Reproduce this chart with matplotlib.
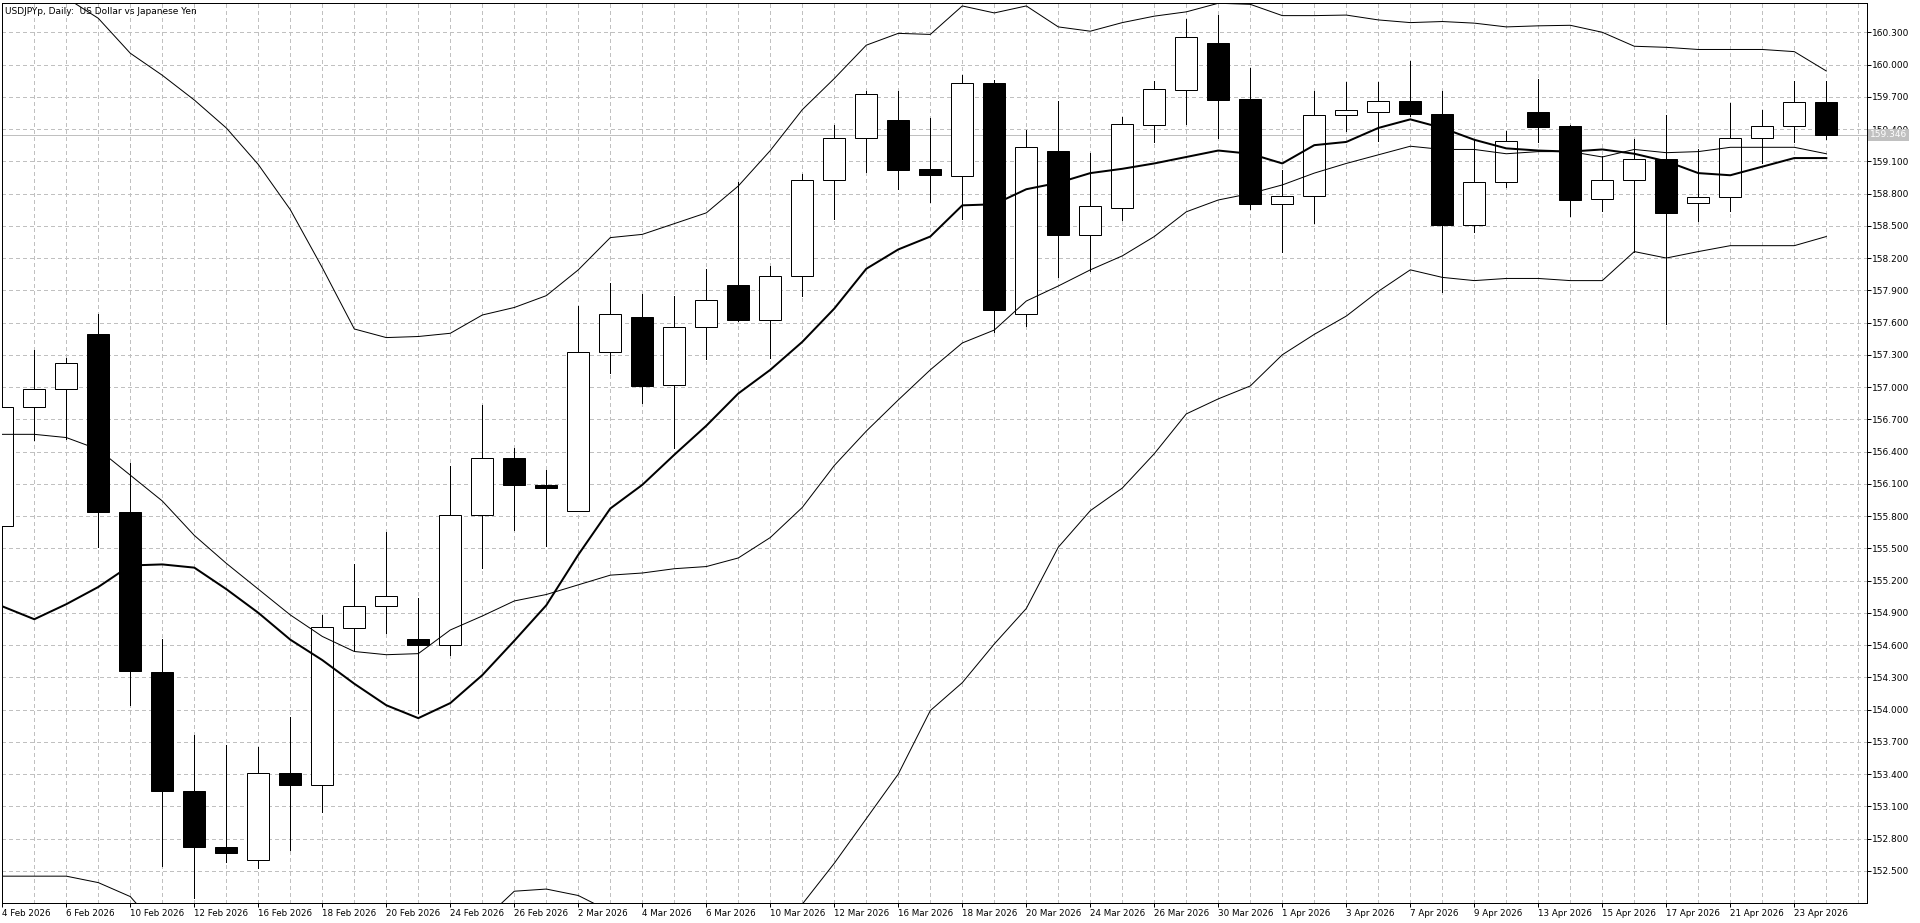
import numpy as np
import matplotlib
matplotlib.use("Agg")
import matplotlib.pyplot as plt

plt.rcParams['font.family'] = ['DejaVu Sans']

# daily candles, 4 Feb 2026 .. 24 Apr 2026
opens = [155.71, 156.81, 156.98, 157.49, 155.84, 154.35, 153.24, 152.72, 152.60, 153.41,
         153.30, 154.76, 154.96, 154.66, 154.60, 155.81, 156.34, 156.09, 155.85, 157.33,
         157.65, 157.02, 157.56, 157.95, 157.62, 158.03, 158.93, 159.32, 159.48, 159.03,
         158.96, 159.83, 157.68, 159.20, 158.41, 158.67, 159.44, 159.76, 160.20, 159.68,
         158.70, 158.78, 159.53, 159.56, 159.66, 159.54, 158.51, 158.91, 159.56, 159.43,
         158.75, 158.93, 159.12, 158.71, 158.77, 159.32, 159.43, 159.65]
highs = [156.95, 157.34, 157.27, 157.68, 156.29, 154.66, 153.76, 153.67, 153.65, 153.93,
         154.88, 155.35, 155.65, 155.04, 156.27, 156.83, 156.43, 156.23, 157.75, 157.97,
         157.87, 157.85, 158.10, 158.91, 158.13, 158.98, 159.44, 159.75, 159.75, 159.50,
         159.90, 159.86, 159.39, 159.66, 159.18, 159.51, 159.85, 160.42, 160.46, 159.97,
         159.02, 159.75, 159.84, 159.84, 160.03, 159.75, 159.31, 159.38, 159.87, 159.44,
         159.15, 159.31, 159.53, 159.21, 159.64, 159.58, 159.85, 159.85]
lows = [155.60, 156.51, 156.52, 155.51, 154.04, 152.54, 152.25, 152.58, 152.53, 152.69,
        153.05, 154.54, 154.71, 153.97, 154.51, 155.32, 155.67, 155.52, 155.85, 157.13,
        156.85, 156.43, 157.26, 157.61, 157.27, 157.85, 158.56, 159.00, 158.84, 158.72,
        158.56, 157.51, 157.57, 158.02, 158.08, 158.55, 159.28, 159.45, 159.32, 158.66,
        158.26, 158.53, 159.38, 159.29, 159.52, 157.88, 158.44, 158.86, 159.28, 158.59,
        158.64, 158.26, 157.59, 158.54, 158.64, 159.08, 159.28, 159.31]
closes = [156.81, 156.98, 157.22, 155.84, 154.36, 153.24, 152.72, 152.67, 153.41, 153.30,
          154.77, 154.96, 155.06, 154.60, 155.81, 156.34, 156.09, 156.06, 157.33, 157.68,
          157.01, 157.56, 157.81, 157.62, 158.03, 158.93, 159.32, 159.73, 159.02, 158.97,
          159.83, 157.72, 159.23, 158.41, 158.68, 159.45, 159.77, 160.26, 159.67, 158.70,
          158.78, 159.53, 159.58, 159.66, 159.54, 158.51, 158.91, 159.29, 159.42, 158.74,
          158.93, 159.12, 158.62, 158.77, 159.32, 159.43, 159.65, 159.346]

# indicator lines
band_upper = [160.80, 160.72, 160.62, 160.43, 160.105, 159.90, 159.67, 159.41, 159.07, 158.65,
              158.11, 157.54, 157.46, 157.47, 157.50, 157.67, 157.74, 157.85, 158.09, 158.39,
              158.42, 158.52, 158.62, 158.87, 159.20, 159.58, 159.87, 160.18, 160.29, 160.28,
              160.545, 160.48, 160.545, 160.35, 160.31, 160.39, 160.45, 160.49, 160.57, 160.56,
              160.455, 160.455, 160.46, 160.415, 160.39, 160.40, 160.385, 160.35, 160.36, 160.365,
              160.30, 160.17, 160.16, 160.14, 160.14, 160.14, 160.12, 159.94]
ma_thick = [154.96, 154.84, 154.98, 155.14, 155.34, 155.35, 155.32, 155.12, 154.90, 154.65,
            154.46, 154.24, 154.04, 153.92, 154.06, 154.32, 154.64, 154.97, 155.44, 155.87,
            156.09, 156.37, 156.64, 156.94, 157.16, 157.42, 157.73, 158.10, 158.28, 158.40,
            158.69, 158.70, 158.84, 158.90, 158.99, 159.03, 159.08, 159.14, 159.20, 159.17,
            159.08, 159.25, 159.28, 159.41, 159.49, 159.41, 159.30, 159.22, 159.20, 159.19,
            159.21, 159.17, 159.10, 158.99, 158.97, 159.05, 159.13, 159.13]
ma_thin = [156.56, 156.56, 156.53, 156.42, 156.18, 155.94, 155.62, 155.36, 155.12, 154.88,
           154.68, 154.54, 154.51, 154.52, 154.74, 154.87, 155.01, 155.07, 155.16, 155.25,
           155.27, 155.31, 155.33, 155.41, 155.60, 155.88, 156.27, 156.59, 156.88, 157.16,
           157.41, 157.53, 157.80, 157.94, 158.09, 158.22, 158.40, 158.63, 158.74, 158.80,
           158.88, 158.99, 159.08, 159.16, 159.24, 159.21, 159.21, 159.17, 159.19, 159.19,
           159.14, 159.21, 159.18, 159.19, 159.23, 159.23, 159.23, 159.17]
band_lower = [152.45, 152.45, 152.45, 152.39, 152.26, 151.92, 151.70, 151.55, 151.45, 151.40,
              151.40, 151.45, 151.55, 151.65, 151.80, 152.03, 152.31, 152.33, 152.27, 152.12,
              151.95, 151.85, 151.80, 151.82, 151.90, 152.19, 152.57, 152.985, 153.40, 153.99,
              154.25, 154.61, 154.94, 155.51, 155.85, 156.06, 156.38, 156.75, 156.89, 157.01,
              157.30, 157.49, 157.66, 157.89, 158.09, 158.02, 157.99, 158.01, 158.01, 157.99,
              157.99, 158.26, 158.20, 158.26, 158.315, 158.315, 158.315, 158.40]

date_labels = ["4 Feb 2026", "6 Feb 2026", "10 Feb 2026", "12 Feb 2026", "16 Feb 2026",
               "18 Feb 2026", "20 Feb 2026", "24 Feb 2026", "26 Feb 2026", "2 Mar 2026",
               "4 Mar 2026", "6 Mar 2026", "10 Mar 2026", "12 Mar 2026", "16 Mar 2026",
               "18 Mar 2026", "20 Mar 2026", "24 Mar 2026", "26 Mar 2026", "30 Mar 2026",
               "1 Apr 2026", "3 Apr 2026", "7 Apr 2026", "9 Apr 2026", "13 Apr 2026",
               "15 Apr 2026", "17 Apr 2026", "21 Apr 2026", "23 Apr 2026"]
price_ticks = [152.5, 152.8, 153.1, 153.4, 153.7, 154.0, 154.3, 154.6, 154.9, 155.2,
               155.5, 155.8, 156.1, 156.4, 156.7, 157.0, 157.3, 157.6, 157.9, 158.2,
               158.5, 158.8, 159.1, 159.4, 159.7, 160.0, 160.3]
last_price = 159.346

W, H = 1920, 923
fig = plt.figure(figsize=(W / 100, H / 100), dpi=100)
fig.patch.set_facecolor("white")
left, right, top, bottom = 2.3, 1866.7, 2.5, 902.5
ax = fig.add_axes([left / W, (H - bottom) / H, (right - left) / W, (bottom - top) / H])

n = len(opens)
x = np.arange(n)
o = np.array(opens)
c = np.array(closes)
up = c >= o

px = 0.72  # one pixel in points

# grid
grid_kw = dict(color="#c0c0c0", lw=px, ls=(0, (4, 3)), zorder=0, antialiased=False)
for k in range(0, 59):
    ax.axvline(k, **grid_kw)
for p in price_ticks:
    ax.axhline(p, **grid_kw)

# bid line
ax.axhline(last_price, color="#c0c0c0", lw=px, zorder=1, antialiased=False)

# candles
ax.vlines(x, lows, highs, color="black", lw=px, zorder=2, antialiased=False)
body_bottom = np.minimum(o, c)
body_h = np.abs(c - o)
ax.bar(x[up], body_h[up], bottom=body_bottom[up], width=0.69, color="white",
       edgecolor="black", linewidth=px, zorder=3)
ax.bar(x[~up], body_h[~up], bottom=body_bottom[~up], width=0.69, color="black",
       edgecolor="black", linewidth=px, zorder=3)

# indicators
ax.plot(x, band_upper, color="black", lw=px, zorder=4)
ax.plot(x, band_lower, color="black", lw=px, zorder=4)
ax.plot(x, ma_thin, color="black", lw=px, zorder=4)
ax.plot(x, ma_thick, color="black", lw=2 * px, zorder=4)

ax.set_xlim(0, (right - left) / 32)
ax.set_ylim(152.205, 160.577)

ax.set_xticks(np.arange(0, 2 * len(date_labels), 2))
ax.set_xticklabels(date_labels, fontsize=6.3, ha="left")
ax.set_yticks(price_ticks)
ax.set_yticklabels(["%.3f" % p for p in price_ticks], fontsize=6.5)
ax.yaxis.tick_right()
ax.tick_params(axis="x", length=3, width=px, pad=2, direction="out")
ax.tick_params(axis="y", length=3, width=px, pad=1, direction="out")
for s in ax.spines.values():
    s.set_linewidth(px)
    s.set_color("black")

ax.text(0.0015, 0.995, "USDJPYp, Daily:  US Dollar vs Japanese Yen", transform=ax.transAxes,
        fontsize=6.5, va="top", ha="left", zorder=6)

# last price box on the price scale
ypix = top + (160.577 - last_price) / (160.577 - 152.205) * (bottom - top)
fig.text(1870 / W, 1 - ypix / H, "%.3f" % last_price, fontsize=6.5, color="white",
         ha="left", va="center",
         bbox=dict(boxstyle="square,pad=0.2", facecolor="#c0c0c0", edgecolor="none"))

fig.savefig("out.png", dpi=100)
